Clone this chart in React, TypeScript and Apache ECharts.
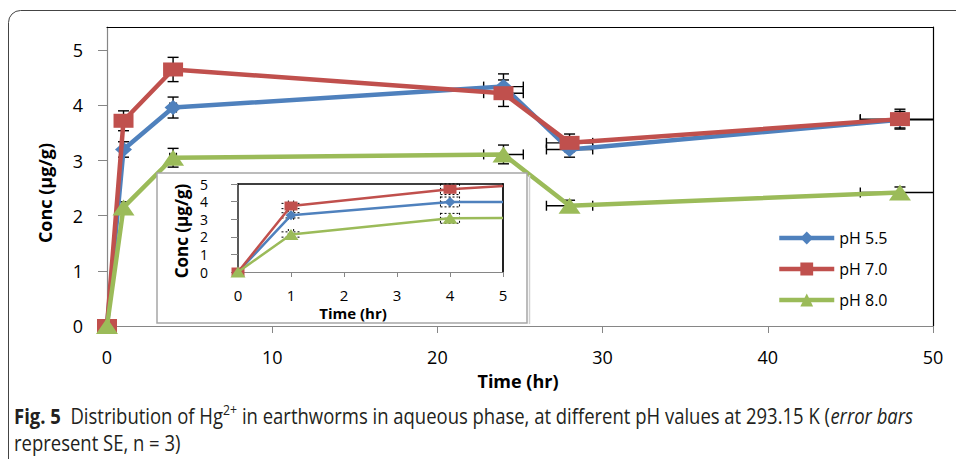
import React, { useEffect, useRef } from "react";
import * as echarts from "echarts";

// ---- main chart data ----
const timeHr = [0, 1, 4, 24, 28, 48];
const ph55 = [0, 3.2, 3.96, 4.34, 3.2, 3.74];
const ph70 = [0, 3.72, 4.65, 4.22, 3.32, 3.75];
const ph80 = [0, 2.15, 3.05, 3.11, 2.18, 2.42];
const se55 = [0, 0.14, 0.19, 0.23, 0.14, 0.15];
const se70 = [0, 0.18, 0.22, 0.24, 0.16, 0.18];
const se80 = [0, 0.1, 0.17, 0.17, 0.1, 0.1];
const timeErr = [0, 0.05, 0.2, 1.2, 1.4, 2.4];

// ---- inset data ----
const insetTime = [0, 1, 4, 5];
const inset55 = [0, 3.22, 3.98, 3.98];
const inset70 = [0, 3.75, 4.7, 4.89];
const inset80 = [0, 2.13, 3.05, 3.07];
const insetSe55 = [0, 0.15, 0.28, 0];
const insetSe70 = [0, 0.15, 0.3, 0];
const insetSe80 = [0, 0.15, 0.28, 0];
const insetTimeErr = [0, 0.05, 0.18, 0];

const concTicks = [0, 1, 2, 3, 4, 5];
const seriesNames = ["pH 5.5", "pH 7.0", "pH 8.0"];

const BLUE = "#4F81BD";
const RED = "#C0504D";
const GREEN = "#9BBB59";
const AXIS_GRAY = "#868686";
const FONT = "Open Sans";

function errorRender(capV: number, capH: number, dash: number[] | null, lw: number) {
  return (params: any, api: any) => {
    const x = api.value(0);
    const y = api.value(1);
    const ye = api.value(2);
    const xe = api.value(3);
    const cs = params.coordSys;
    const minX = cs.x;
    const maxX = cs.x + cs.width;
    const c = api.coord([x, y]);
    const style: any = { stroke: "#000", lineWidth: lw, fill: null };
    if (dash) style.lineDash = dash;
    const children: any[] = [];
    const ln = (x1: number, y1: number, x2: number, y2: number) =>
      children.push({ type: "line", shape: { x1, y1, x2, y2 }, style });
    if (ye > 0) {
      const t = api.coord([x, y + ye])[1];
      const b = api.coord([x, y - ye])[1];
      ln(c[0], t, c[0], b);
      ln(c[0] - capV / 2, t, c[0] + capV / 2, t);
      ln(c[0] - capV / 2, b, c[0] + capV / 2, b);
    }
    if (xe > 0) {
      let l = api.coord([x - xe, y])[0];
      let r = api.coord([x + xe, y])[0];
      const lc = l >= minX;
      const rc = r <= maxX;
      l = Math.max(l, minX);
      r = Math.min(r, maxX);
      ln(l, c[1], r, c[1]);
      if (lc) ln(l, c[1] - capH / 2, l, c[1] + capH / 2);
      if (rc) ln(r, c[1] - capH / 2, r, c[1] + capH / 2);
    }
    return { type: "group", children };
  };
}

export default function App() {
  const ref = useRef<HTMLDivElement>(null);

  useEffect(() => {
    if (!ref.current) return;
    const chart = echarts.init(ref.current, undefined, { renderer: "svg" });

    const mainSets = [
      { name: seriesNames[0], vals: ph55, se: se55, color: BLUE, symbol: "diamond", size: [17, 15] },
      { name: seriesNames[1], vals: ph70, se: se70, color: RED, symbol: "rect", size: [20, 14] },
      { name: seriesNames[2], vals: ph80, se: se80, color: GREEN, symbol: "triangle", size: [22, 16] },
    ];
    const insetSets = [
      { vals: inset55, se: insetSe55, color: BLUE, symbol: "diamond", size: [11, 10] },
      { vals: inset70, se: insetSe70, color: RED, symbol: "rect", size: [13, 9] },
      { vals: inset80, se: insetSe80, color: GREEN, symbol: "triangle", size: [15, 11] },
    ];

    const series: any[] = [];
    mainSets.forEach((s, k) => {
      series.push({
        type: "custom",
        name: "err" + k,
        xAxisIndex: 0,
        yAxisIndex: 0,
        silent: true,
        z: 1,
        renderItem: errorRender(11, 10, null, 1.4),
        encode: { x: 0, y: 1 },
        data: timeHr.map((t, i) => [t, s.vals[i], s.se[i], timeErr[i]]),
      });
    });
    mainSets.forEach((s, k) => {
      series.push({
        type: "line",
        name: s.name,
        xAxisIndex: 0,
        yAxisIndex: 0,
        z: 3 + k,
        data: timeHr.map((t, i) => [t, s.vals[i]]),
        symbol: s.symbol,
        symbolSize: s.size,
        showAllSymbol: true,
        lineStyle: { width: 4.5, color: s.color },
        itemStyle: { color: s.color },
      });
    });
    insetSets.forEach((s, k) => {
      series.push({
        type: "custom",
        name: "insetErr" + k,
        xAxisIndex: 2,
        yAxisIndex: 2,
        silent: true,
        z: 11,
        renderItem: errorRender(19, 11, [2, 2], 1),
        encode: { x: 0, y: 1 },
        data: insetTime.map((t, i) => [t, s.vals[i], s.se[i], insetTimeErr[i]]),
      });
    });
    insetSets.forEach((s, k) => {
      series.push({
        type: "line",
        name: "inset" + k,
        xAxisIndex: 2,
        yAxisIndex: 2,
        z: 12 + k,
        data: insetTime.map((t, i) =>
          i === insetTime.length - 1
            ? { value: [t, s.vals[i]], symbol: "none" }
            : { value: [t, s.vals[i]] }
        ),
        symbol: s.symbol,
        symbolSize: s.size,
        showAllSymbol: true,
        lineStyle: { width: 2.5, color: s.color },
        itemStyle: { color: s.color },
      });
    });

    const hidden = {
      axisTick: { show: false },
      axisLabel: { show: false },
      splitLine: { show: false },
    };

    const option: any = {
      animation: false,
      backgroundColor: "#fff",
      textStyle: { fontFamily: FONT },
      grid: [
        { left: 107, top: 27, width: 826, height: 299 },
        { left: 238, top: 184, width: 265, height: 88, z: 10 },
      ],
      xAxis: [
        {
          gridIndex: 0,
          type: "value",
          min: 0,
          max: 50,
          interval: 10,
          axisLine: { lineStyle: { color: AXIS_GRAY, width: 1.2 } },
          axisTick: { show: true, length: 7, lineStyle: { color: AXIS_GRAY } },
          axisLabel: { fontSize: 18, color: "#000", margin: 22, fontFamily: FONT },
          splitLine: { show: false },
        },
        {
          gridIndex: 0,
          type: "value",
          position: "top",
          min: 0,
          max: 50,
          axisLine: { show: true, onZero: false, lineStyle: { color: "#000", width: 1.2 } },
          ...hidden,
        },
        {
          gridIndex: 1,
          type: "value",
          min: 0,
          max: 5,
          interval: 1,
          z: 10,
          axisLine: { lineStyle: { color: AXIS_GRAY, width: 1.2 } },
          axisTick: { show: true, length: 5, lineStyle: { color: AXIS_GRAY } },
          axisLabel: { fontSize: 15, color: "#000", margin: 15, fontFamily: FONT },
          splitLine: { show: false },
        },
        {
          gridIndex: 1,
          type: "value",
          position: "top",
          min: 0,
          max: 5,
          z: 10,
          axisLine: { show: true, onZero: false, lineStyle: { color: "#000", width: 1.5 } },
          ...hidden,
        },
      ],
      yAxis: [
        {
          gridIndex: 0,
          type: "value",
          min: 0,
          max: 5.42,
          interval: 1,
          axisLine: { show: true, lineStyle: { color: AXIS_GRAY, width: 1.2 } },
          axisTick: { show: true, length: 9, customValues: concTicks, lineStyle: { color: AXIS_GRAY } },
          axisLabel: {
            fontSize: 18,
            color: "#000",
            margin: 24,
            fontFamily: FONT,
            customValues: concTicks,
            formatter: (v: number) => (Number.isInteger(v) ? String(v) : ""),
          },
          splitLine: { show: false },
        },
        {
          gridIndex: 0,
          type: "value",
          position: "right",
          min: 0,
          max: 5.42,
          axisLine: { show: true, onZero: false, lineStyle: { color: "#000", width: 1.2 } },
          ...hidden,
        },
        {
          gridIndex: 1,
          type: "value",
          min: 0,
          max: 5,
          interval: 1,
          z: 10,
          axisLine: { show: true, lineStyle: { color: "#222", width: 1.5 } },
          axisTick: { show: true, length: 7, lineStyle: { color: AXIS_GRAY } },
          axisLabel: { fontSize: 14, lineHeight: 14, color: "#000", margin: 30, fontFamily: FONT },
          splitLine: { show: false },
        },
        {
          gridIndex: 1,
          type: "value",
          position: "right",
          min: 0,
          max: 5,
          z: 10,
          axisLine: { show: true, onZero: false, lineStyle: { color: "#222", width: 2 } },
          ...hidden,
        },
      ],
      legend: {
        orient: "vertical",
        left: 772,
        top: 225,
        itemWidth: 55,
        itemHeight: 16,
        itemGap: 15,
        data: seriesNames,
        lineStyle: { width: 4.5 },
        textStyle: { fontSize: 16, color: "#000", fontFamily: FONT },
      },
      graphic: [
        {
          type: "rect",
          z: 0,
          silent: true,
          shape: { x: 8.5, y: 10.5, width: 1000, height: 500, r: 12 },
          style: { fill: "none", stroke: "#444", lineWidth: 1 },
        },
        {
          type: "rect",
          z: 6,
          silent: true,
          shape: { x: 157, y: 173, width: 370, height: 150 },
          style: { fill: "#fff", stroke: "#a6a6a6", lineWidth: 1.5 },
        },
        {
          type: "line",
          z: 6,
          silent: true,
          shape: { x1: 529.5, y1: 175, x2: 529.5, y2: 324 },
          style: { stroke: "#d0d0d0", lineWidth: 1.5 },
        },
        {
          type: "text",
          z: 20,
          silent: true,
          x: 45,
          y: 193,
          rotation: Math.PI / 2,
          style: {
            text: "Conc (µg/g)",
            align: "center",
            verticalAlign: "middle",
            fontFamily: FONT,
            fontWeight: "bold",
            fontSize: 18,
            fill: "#000",
          },
        },
        {
          type: "text",
          z: 20,
          silent: true,
          x: 518,
          y: 381,
          style: {
            text: "Time (hr)",
            align: "center",
            verticalAlign: "middle",
            fontFamily: FONT,
            fontWeight: "bold",
            fontSize: 18,
            fill: "#000",
          },
        },
        {
          type: "text",
          z: 20,
          silent: true,
          x: 181,
          y: 231,
          rotation: Math.PI / 2,
          style: {
            text: "Conc (µg/g)",
            align: "center",
            verticalAlign: "middle",
            fontFamily: FONT,
            fontWeight: "bold",
            fontSize: 17,
            fill: "#000",
          },
        },
        {
          type: "text",
          z: 20,
          silent: true,
          x: 353,
          y: 313,
          style: {
            text: "Time (hr)",
            align: "center",
            verticalAlign: "middle",
            fontFamily: FONT,
            fontWeight: "bold",
            fontSize: 15,
            fill: "#000",
          },
        },
        {
          type: "text",
          z: 20,
          silent: true,
          x: 14,
          y: 403,
          scaleX: 0.88,
          style: {
            text:
              "{b|Fig. 5}  Distribution of Hg{sup|2+} in earthworms in aqueous phase, at different pH values at 293.15 K ({i|error bars}\nrepresent SE, n = 3)",
            align: "left",
            verticalAlign: "top",
            fontFamily: FONT,
            fontSize: 21,
            lineHeight: 27,
            fill: "#231f20",
            rich: {
              b: { fontFamily: FONT, fontSize: 21, fontWeight: "bold", fill: "#231f20", lineHeight: 27 },
              sup: { fontFamily: FONT, fontSize: 14, fill: "#231f20", padding: [0, 0, 13, 0] },
              i: { fontFamily: FONT, fontSize: 21, fontStyle: "italic", fill: "#231f20", lineHeight: 27 },
            },
          },
        },
      ],
      series,
    };

    chart.setOption(option);
    return () => chart.dispose();
  }, []);

  return <div ref={ref} style={{ width: 956, height: 459, position: "absolute", left: 0, top: 0 }} />;
}
